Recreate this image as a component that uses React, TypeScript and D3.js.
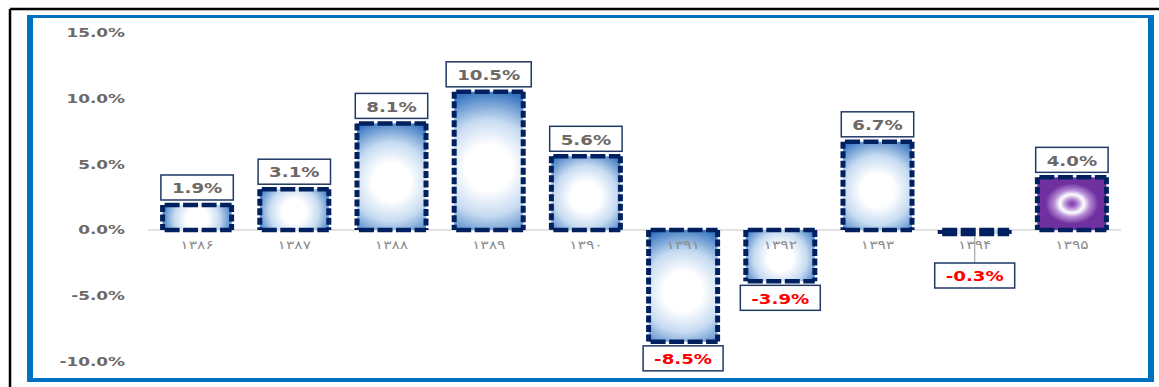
import React, { useEffect, useRef } from "react";
import * as d3 from "d3";

const categories = ["۱۳۸۶", "۱۳۸۷", "۱۳۸۸", "۱۳۸۹", "۱۳۹۰", "۱۳۹۱", "۱۳۹۲", "۱۳۹۳", "۱۳۹۴", "۱۳۹۵"];
const values = [1.9, 3.1, 8.1, 10.5, 5.6, -8.5, -3.9, 6.7, -0.3, 4.0];
const yTicks = [-10, -5, 0, 5, 10, 15];
const highlightCategory = "۱۳۹۵";

const W = 1159;
const H = 387;

const pct = (v: number) => v.toFixed(1) + "%";

export default function App() {
  const ref = useRef<SVGSVGElement>(null);

  useEffect(() => {
    const svg = d3.select(ref.current);
    svg.selectAll("*").remove();

    const defs = svg.append("defs");
    const purple = defs.append("radialGradient").attr("id", "gPurple")
      .attr("cx", 0.5).attr("cy", 0.5).attr("r", 0.62);
    [[0, "#7a36a8"], [0.12, "#a877cc"], [0.28, "#ffffff"], [0.42, "#b48ad4"], [0.62, "#7030a0"], [1, "#7030a0"]].forEach(([o, c]) =>
      purple.append("stop").attr("offset", o as number).attr("stop-color", c as string));

    // frame
    svg.append("line").attr("x1", 10).attr("x2", W).attr("y1", 9).attr("y2", 9).attr("stroke", "#000").attr("stroke-width", 2.5);
    svg.append("line").attr("x1", 10).attr("x2", 10).attr("y1", 9).attr("y2", H).attr("stroke", "#000").attr("stroke-width", 2.5);
    const blueC = "#0070c0";
    svg.append("line").attr("x1", 27).attr("x2", 1154).attr("y1", 16.5).attr("y2", 16.5).attr("stroke", blueC).attr("stroke-width", 3);
    svg.append("line").attr("x1", 27).attr("x2", 1154).attr("y1", 380).attr("y2", 380).attr("stroke", blueC).attr("stroke-width", 4);
    svg.append("line").attr("x1", 30).attr("x2", 30).attr("y1", 15).attr("y2", 382).attr("stroke", blueC).attr("stroke-width", 6);
    svg.append("line").attr("x1", 1151).attr("x2", 1151).attr("y1", 15).attr("y2", 382).attr("stroke", blueC).attr("stroke-width", 6);

    const x = d3.scaleBand<string>().domain(categories).range([148.5, 1120.5]).paddingInner(0.29).paddingOuter(0.145);
    const y = d3.scaleLinear().domain([-10, 15]).range([361.6, 32.6]);
    const bw = x.bandwidth();
    const SX = 1.3;

    // y axis labels
    yTicks.forEach((t) => {
      svg.append("g").attr("transform", `translate(125,${y(t)}) scale(${SX},1)`)
        .append("text").attr("text-anchor", "end").attr("dominant-baseline", "central")
        .attr("font-family", "DejaVu Sans").attr("font-weight", "bold").attr("font-size", 13)
        .attr("fill", "#6e6866").text(pct(t));
    });

    // zero line
    svg.append("line").attr("x1", 148).attr("x2", 1121).attr("y1", y(0)).attr("y2", y(0))
      .attr("stroke", "#d9d9d9").attr("stroke-width", 1.5);

    // bars
    categories.forEach((c, i) => {
      const v = values[i];
      const x0 = x(c)!;
      const yt = y(Math.max(v, 0));
      const yb = y(Math.min(v, 0));
      const h = yb - yt;
      let fill = "url(#gPurple)";
      if (c !== highlightCategory) {
        const gid = `gBlue${i}`;
        const gr = defs.append("radialGradient").attr("id", gid).attr("gradientUnits", "userSpaceOnUse")
          .attr("cx", x0 + bw / 2).attr("cy", yt + h * 0.55).attr("r", Math.hypot(bw / 2, h / 2));
        [[0, "#ffffff"], [0.3, "#ffffff"], [0.62, "#c6dbf1"], [1, "#3674c0"]].forEach(([o, col]) =>
          gr.append("stop").attr("offset", o as number).attr("stop-color", col as string));
        fill = `url(#${gid})`;
      }
      const g = svg.append("g");
      g.append("rect").attr("x", x0).attr("y", yt).attr("width", bw).attr("height", h).attr("fill", fill);
      const navy = "#002060";
      [yt, yb].forEach((yy) => {
        g.append("line").attr("x1", x0).attr("x2", x0 + bw).attr("y1", yy).attr("y2", yy)
          .attr("stroke", navy).attr("stroke-width", 4.5).attr("stroke-dasharray", "15 3.5")
          .attr("stroke-dashoffset", -2);
      });
      [x0, x0 + bw].forEach((xx) => {
        g.append("line").attr("x1", xx).attr("x2", xx).attr("y1", yt).attr("y2", yb)
          .attr("stroke", navy).attr("stroke-width", 5).attr("stroke-dasharray", "7 2.5");
      });
    });

    // category labels
    categories.forEach((c) => {
      svg.append("g").attr("transform", `translate(${x(c)! + bw / 2},${y(0) + 15}) scale(${SX},1)`)
        .append("text").attr("text-anchor", "middle").attr("dominant-baseline", "central")
        .attr("font-family", "DejaVu Sans").attr("font-size", 12).attr("letter-spacing", 3)
        .attr("fill", "#8c8c8c").text(c);
    });

    // value labels
    categories.forEach((c, i) => {
      const v = values[i];
      const cx = x(c)! + bw / 2;
      const bh = 25;
      let top: number;
      if (v >= 0) top = y(v) - 5 - bh;
      else top = Math.max(y(v) + 4, y(0) + 33);
      if (v < 0 && top > y(v) + 10) {
        svg.append("line").attr("x1", cx).attr("x2", cx).attr("y1", y(v) + 2).attr("y2", top)
          .attr("stroke", "#a6a6a6").attr("stroke-width", 1.2);
      }
      const g = svg.append("g");
      const rect = g.append("rect");
      const tg = g.append("g").attr("transform", `translate(${cx},${top + bh / 2 + 1}) scale(${SX},1)`);
      const txt = tg.append("text").attr("text-anchor", "middle").attr("dominant-baseline", "central")
        .attr("font-family", "DejaVu Sans").attr("font-weight", "bold").attr("font-size", 14)
        .attr("fill", v < 0 ? "#ff0000" : "#6e6866").text(pct(v));
      const tw = (txt.node() as SVGTextElement).getComputedTextLength() * SX;
      const w = tw + 22;
      rect.attr("x", cx - w / 2).attr("y", top).attr("width", w).attr("height", bh)
        .attr("fill", "#fff").attr("stroke", "#203864").attr("stroke-width", 1.5);
    });
  }, []);

  return (
    <svg ref={ref} width={W} height={H}
      style={{ position: "absolute", left: 0, top: 0, background: "#fff" }} />
  );
}
